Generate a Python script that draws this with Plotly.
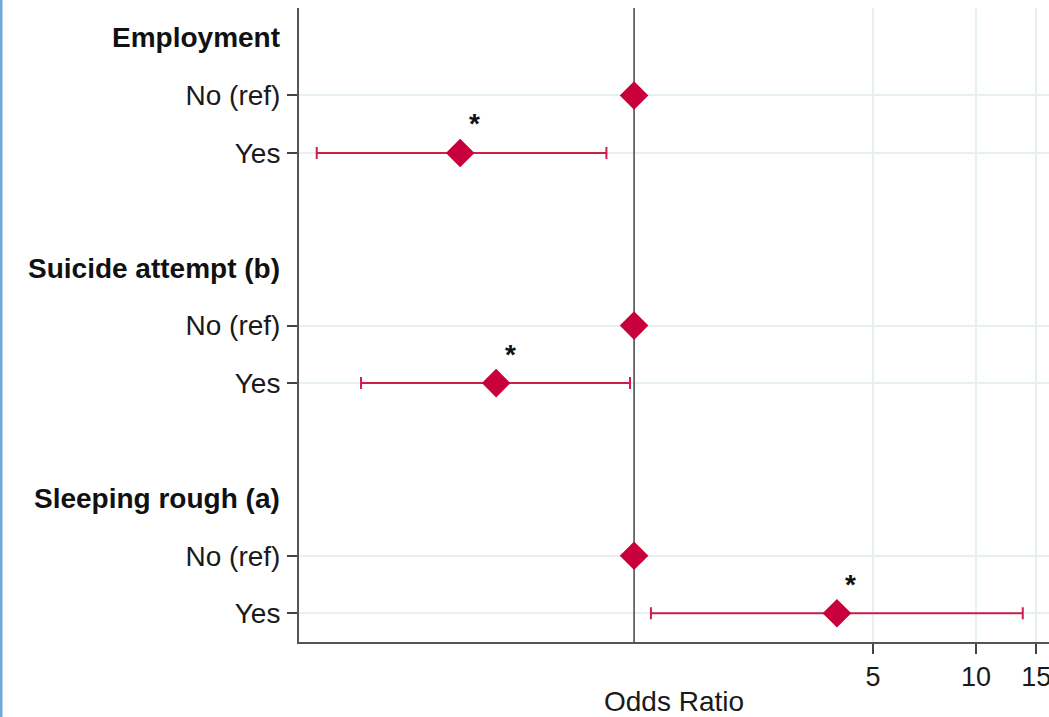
import numpy as np
import plotly.graph_objects as go

# ---- data ----
groups = ["Employment", "Suicide attempt (b)", "Sleeping rough (a)"]
levels = ["No (ref)", "Yes"]
odds_ratio = [1.0, 0.31, 1.0, 0.395, 1.0, 3.92]
ci_low = [1.0, 0.118, 1.0, 0.159, 1.0, 1.12]
ci_high = [1.0, 0.83, 1.0, 0.973, 1.0, 13.7]
significant = [False, True, False, True, False, True]
x_ticks = [5, 10, 15]

# row positions: header, No, Yes, blank, ...
header_rows = [0, 4, 8]
level_rows = [1, 2, 5, 6, 9, 10]
level_labels = levels * 3

red = "#c8003c"
font_family = "Liberation Sans, Arial, sans-serif"

fig = go.Figure()

# reference line at OR = 1
fig.add_trace(go.Scatter(x=[1, 1], y=[-0.52, 10.5], mode="lines",
                         line=dict(color="#444444", width=1.5),
                         hoverinfo="skip", showlegend=False))

or_arr = np.array(odds_ratio)
lo = np.array(ci_low)
hi = np.array(ci_high)
fig.add_trace(go.Scatter(
    x=or_arr, y=level_rows, mode="markers",
    marker=dict(symbol="diamond", size=22, color=red),
    error_x=dict(type="data", symmetric=False,
                 array=hi - or_arr, arrayminus=or_arr - lo,
                 color="#cc1f4b", thickness=2, width=6),
    showlegend=False))

annotations = []
for g, r in zip(groups, header_rows):
    annotations.append(dict(x=0, xref="paper", y=r, yref="y", text="<b>%s</b>" % g,
                            xanchor="right", yanchor="middle", showarrow=False,
                            xshift=-17,
                            font=dict(size=28, color="#111111", family=font_family)))
for o, r, s in zip(odds_ratio, level_rows, significant):
    if s:
        annotations.append(dict(x=np.log10(o), xref="x", y=r, yref="y", text="<b>*</b>",
                                showarrow=False, xshift=14, yshift=29,
                                font=dict(size=28, color="#111111", family=font_family)))

fig.update_layout(
    width=1049, height=717,
    margin=dict(l=299, r=0, t=8, b=75, autoexpand=False),
    paper_bgcolor="white", plot_bgcolor="white",
    font=dict(family=font_family, size=28, color="#1a1a1a"),
    annotations=annotations,
    shapes=[dict(type="line", xref="paper", yref="paper", x0=-298/750, x1=-298/750,
                 y0=-0.2, y1=1.02, line=dict(color="#6fa8dc", width=3))],
)
fig.update_xaxes(type="log", range=[-0.98, 1.2135], automargin=False,
                 tickvals=x_ticks, ticktext=[str(t) for t in x_ticks],
                 ticks="outside", ticklen=10, tickwidth=2, tickcolor="#444444",
                 ticklabeloverflow="allow",
                 showgrid=True, gridcolor="#e6eff2", gridwidth=1.5,
                 showline=True, linecolor="#555555", linewidth=2,
                 zeroline=False,
                 title=dict(text="Odds Ratio", standoff=8,
                            font=dict(size=28, color="#1a1a1a")),
                 tickfont=dict(size=27, color="#1a1a1a"))
fig.update_yaxes(range=[10.5, -0.52], tickvals=level_rows, ticktext=level_labels,
                 automargin=False,
                 ticks="outside", ticklen=10, tickwidth=2, tickcolor="#444444",
                 ticklabelstandoff=1,
                 showgrid=True, gridcolor="#e6eff2", gridwidth=1.5,
                 showline=True, linecolor="#555555", linewidth=2,
                 zeroline=False,
                 tickfont=dict(size=28, color="#1a1a1a"))

fig.write_html("out.html", config={"displayModeBar": False},
               post_script="document.body.style.margin='0px';")
